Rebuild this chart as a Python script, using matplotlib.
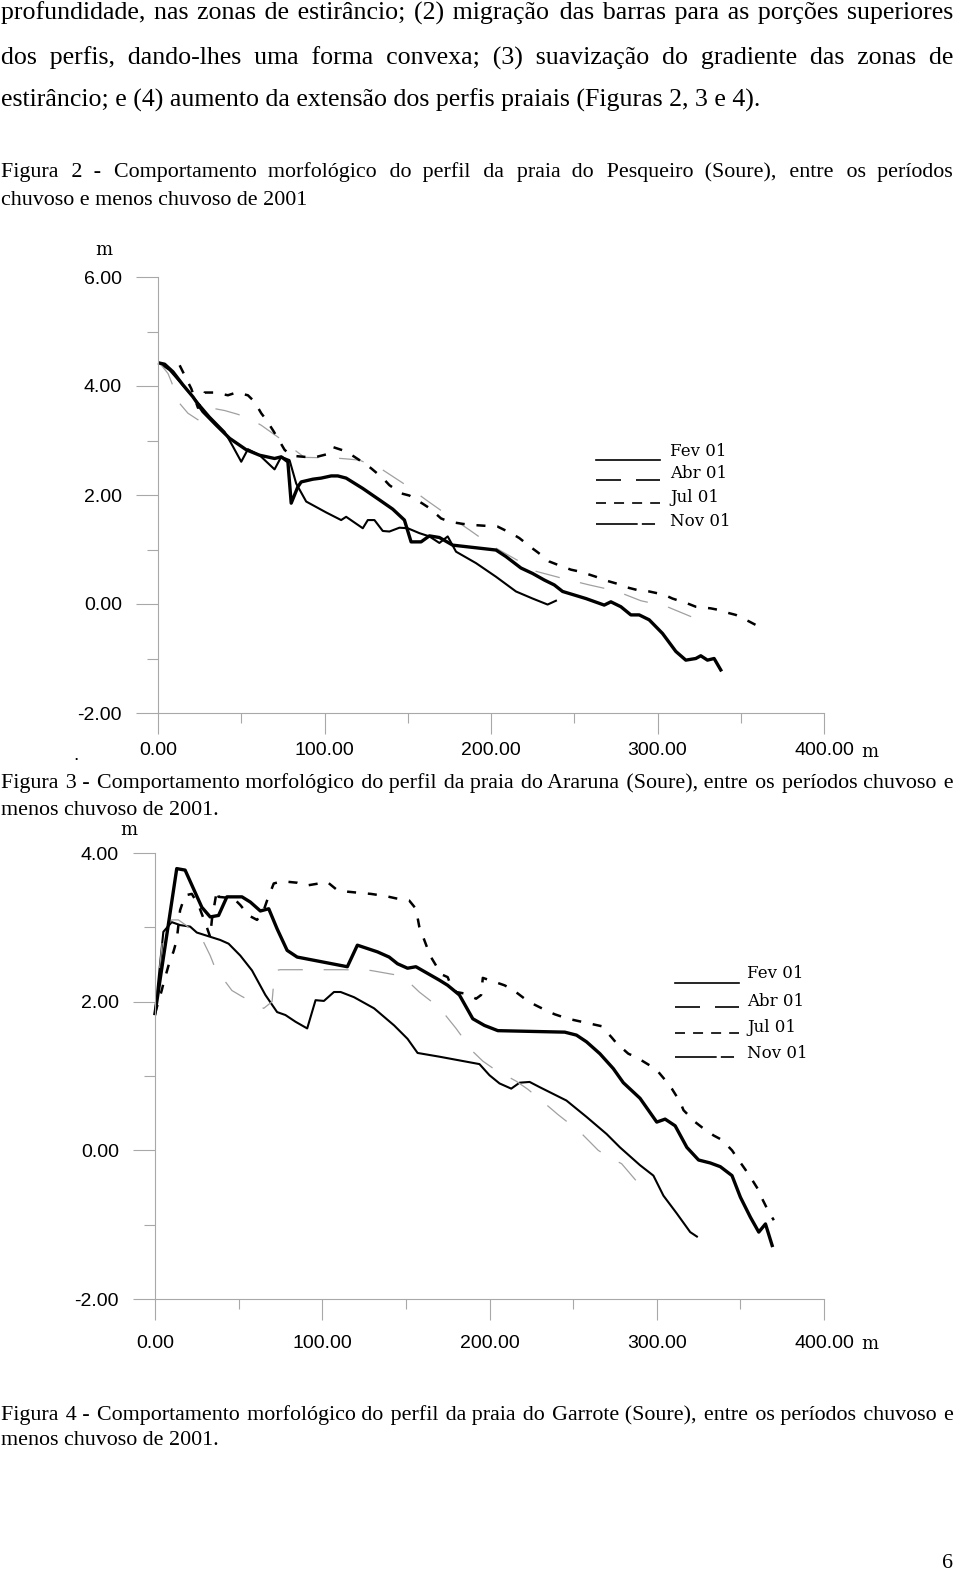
import matplotlib
matplotlib.use("Agg")
import matplotlib.pyplot as plt
from matplotlib.lines import Line2D
from matplotlib.ticker import MultipleLocator, FormatStrFormatter

plt.rcParams['lines.scale_dashes'] = False

W, H = 960, 1590

# ---- Figura 2 (Pesqueiro) ----
x_fev1 = [1, 7, 13, 21, 31, 40, 45, 50, 54, 61, 70, 74, 79, 83, 89, 101, 110, 113, 123, 126,
          130, 135, 139, 145, 150, 157, 163, 169, 174, 179, 191, 203, 215, 225, 234, 239]
y_fev1 = [4.42, 4.29, 4.08, 3.80, 3.44, 3.16, 2.89, 2.61, 2.84, 2.73, 2.47, 2.70, 2.64, 2.21, 1.88, 1.68, 1.54, 1.60, 1.39, 1.54,
          1.54, 1.34, 1.33, 1.40, 1.39, 1.30, 1.24, 1.12, 1.24, 0.96, 0.75, 0.50, 0.23, 0.10, -0.01, 0.06]

x_abr1 = [1, 6, 8, 13, 18, 24, 33, 40, 48, 55, 62, 74, 81, 88, 106, 114, 121, 135, 149, 161,
          174, 187, 200, 205, 216, 227, 243, 259, 275, 290, 305, 320, 331]
y_abr1 = [4.42, 4.23, 4.08, 3.68, 3.50, 3.38, 3.59, 3.55, 3.48, 3.40, 3.28, 3.02, 2.85, 2.69, 2.68, 2.66, 2.64, 2.46, 2.18, 1.91,
          1.63, 1.36, 1.08, 0.99, 0.80, 0.60, 0.47, 0.35, 0.24, 0.06, -0.04, -0.23, -0.42]

x_jul1 = [13, 20, 24, 28, 34, 42, 47, 54, 58, 62, 65, 69, 72, 76, 80, 88, 94, 103, 105, 113,
          117, 124, 128, 135, 139, 146, 151, 159, 163, 170, 175, 183, 189, 199, 204, 212, 217, 224, 228, 235,
          240, 248, 254, 263, 268, 276, 281, 290, 295, 304, 309, 318, 323, 332, 337, 342, 347, 355, 360]
y_jul1 = [4.38, 3.95, 3.60, 3.88, 3.88, 3.83, 3.88, 3.83, 3.71, 3.50, 3.38, 3.19, 3.04, 2.83, 2.72, 2.70, 2.69, 2.76, 2.88, 2.80,
          2.72, 2.58, 2.49, 2.31, 2.18, 2.03, 1.99, 1.84, 1.76, 1.57, 1.51, 1.47, 1.45, 1.43, 1.42, 1.30, 1.21, 1.04, 0.95, 0.78,
          0.72, 0.63, 0.59, 0.50, 0.44, 0.37, 0.31, 0.24, 0.23, 0.17, 0.10, 0.01, -0.05, -0.08, -0.11, -0.16, -0.20, -0.32, -0.40]

x_nov1 = [1, 4, 9, 15, 21, 27, 35, 43, 53, 61, 70, 74, 78, 80, 84, 86, 93, 98, 104, 108,
          113, 123, 133, 141, 148, 152, 158, 163, 169, 177, 203, 209, 218, 225, 232, 238, 243, 257, 268, 272,
          278, 284, 289, 295, 303, 311, 317, 323, 326, 330, 334, 338]
y_nov1 = [4.42, 4.40, 4.26, 4.02, 3.80, 3.53, 3.28, 3.04, 2.83, 2.73, 2.67, 2.70, 2.61, 1.85, 2.15, 2.24, 2.29, 2.31, 2.35, 2.35,
          2.31, 2.12, 1.91, 1.74, 1.54, 1.14, 1.14, 1.25, 1.22, 1.08, 0.99, 0.87, 0.66, 0.56, 0.44, 0.35, 0.23, 0.10, -0.02, 0.04,
          -0.05, -0.20, -0.20, -0.29, -0.54, -0.87, -1.03, -1.00, -0.95, -1.03, -1.00, -1.21]

# ---- Figura 3 (Araruna) ----
x_fev2 = [0, 5, 10, 15, 21, 25, 39, 44, 51, 58, 66, 73, 78, 84, 91, 96, 101, 107, 111, 119,
          131, 143, 151, 157, 170, 194, 200, 206, 213, 218, 224, 230, 238, 246, 258, 270, 278, 290, 298, 304,
          312, 320, 324]
y_fev2 = [1.84, 2.94, 3.07, 3.03, 3.01, 2.93, 2.83, 2.78, 2.62, 2.42, 2.09, 1.86, 1.82, 1.73, 1.64, 2.02, 2.01, 2.13, 2.13, 2.06,
          1.91, 1.68, 1.50, 1.31, 1.26, 1.16, 1.01, 0.90, 0.83, 0.91, 0.92, 0.85, 0.76, 0.67, 0.45, 0.22, 0.04, -0.20, -0.34, -0.61,
          -0.85, -1.10, -1.16]

x_abr2 = [0, 5, 10, 14, 19, 23, 28, 33, 36, 40, 46, 52, 58, 65, 70, 71, 72, 75, 81, 97,
          113, 129, 144, 151, 158, 170, 180, 190, 196, 203, 216, 223, 229, 241, 254, 265, 272, 279, 290]
y_abr2 = [1.84, 2.95, 3.10, 3.10, 3.02, 2.94, 2.85, 2.62, 2.45, 2.33, 2.15, 2.07, 2.00, 1.91, 2.00, 2.26, 2.42, 2.43, 2.43, 2.43,
          2.43, 2.42, 2.36, 2.28, 2.13, 1.92, 1.64, 1.33, 1.20, 1.09, 0.93, 0.82, 0.71, 0.48, 0.25, 0.00, -0.10, -0.18, -0.47]

x_jul2 = [0, 4, 5, 9, 11, 13, 15, 18, 22, 26, 31, 33, 34, 37, 38, 47, 51, 56, 61, 65,
          67, 71, 76, 85, 90, 98, 103, 109, 115, 124, 129, 138, 144, 152, 156, 158, 160, 163, 165, 169,
          172, 175, 176, 180, 185, 192, 195, 196, 200, 209, 214, 221, 226, 234, 239, 247, 253, 261, 267, 273,
          276, 283, 288, 296, 300, 306, 309, 314, 316, 323, 327, 334, 339, 345, 348, 353, 356, 361, 363, 367, 370]
y_jul2 = [1.84, 2.15, 2.24, 2.56, 2.67, 2.83, 3.23, 3.43, 3.45, 3.30, 3.00, 2.87, 3.10, 3.50, 3.41, 3.39, 3.30, 3.16, 3.10, 3.23,
          3.36, 3.59, 3.62, 3.60, 3.56, 3.59, 3.61, 3.50, 3.48, 3.46, 3.45, 3.42, 3.39, 3.36, 3.25, 3.01, 2.89, 2.71, 2.60, 2.45,
          2.36, 2.33, 2.27, 2.13, 2.11, 2.04, 2.09, 2.32, 2.29, 2.22, 2.16, 2.04, 1.97, 1.88, 1.83, 1.77, 1.74, 1.70, 1.67, 1.52,
          1.44, 1.30, 1.25, 1.14, 1.08, 0.92, 0.83, 0.65, 0.54, 0.38, 0.31, 0.20, 0.14, 0.00, -0.10, -0.26, -0.36, -0.54, -0.65, -0.83, -0.94]

x_nov2 = [0, 13, 18, 23, 28, 33, 38, 43, 52, 57, 63, 68, 73, 79, 85, 115, 121, 133, 140, 145,
          151, 156, 163, 170, 175, 182, 190, 197, 205, 245, 252, 258, 266, 274, 280, 290, 300, 305, 311, 318,
          325, 332, 338, 345, 350, 356, 361, 365, 369]
y_nov2 = [1.84, 3.79, 3.77, 3.52, 3.27, 3.14, 3.16, 3.41, 3.41, 3.34, 3.22, 3.25, 2.98, 2.69, 2.60, 2.47, 2.76, 2.67, 2.60, 2.51,
          2.45, 2.47, 2.38, 2.29, 2.22, 2.09, 1.77, 1.68, 1.61, 1.59, 1.55, 1.46, 1.30, 1.10, 0.91, 0.70, 0.38, 0.42, 0.33, 0.04,
          -0.13, -0.17, -0.22, -0.34, -0.63, -0.90, -1.10, -0.99, -1.28]

series_names = ['Fev 01', 'Abr 01', 'Jul 01', 'Nov 01']

# (text, baseline px, font size, justified)
body_lines = [
    ("profundidade, nas zonas de estirâncio; (2) migração das barras para as porções superiores", 20, 18.6, True),
    ("dos perfis, dando-lhes uma forma convexa; (3) suavização do gradiente das zonas de", 65, 18.6, True),
    ("estirâncio; e (4) aumento da extensão dos perfis praiais (Figuras 2, 3 e 4).", 107, 18.6, False),
    ("Figura 2 - Comportamento morfológico do perfil da praia do Pesqueiro (Soure), entre os períodos", 177, 15.8, True),
    ("chuvoso e menos chuvoso de 2001", 205, 15.8, False),
    ("Figura 3 - Comportamento morfológico do perfil da praia do Araruna (Soure), entre os períodos chuvoso e", 788, 15.8, True),
    ("menos chuvoso de 2001.", 815, 15.8, False),
    ("Figura 4 - Comportamento morfológico do perfil da praia do Garrote (Soure), entre os períodos chuvoso e", 1420, 15.8, True),
    ("menos chuvoso de 2001.", 1445, 15.8, False),
]

styles = {
    'Fev 01': dict(color='black', lw=1.5, ls='-'),
    'Abr 01': dict(color='#a0a0a0', lw=0.9, ls=(0, (18, 15))),
    'Jul 01': dict(color='black', lw=1.8, ls=(0, (6.5, 8.5))),
    'Nov 01': dict(color='black', lw=2.4, ls='-'),
}
legend_styles = {
    'Fev 01': '-',
    'Abr 01': (0, (18, 10.8)),
    'Jul 01': (0, (7.2, 5.8)),
    'Nov 01': (0, (30, 3, 9.5, 20)),
}

fig = plt.figure(figsize=(W / 100, H / 100), dpi=100)
fig.patch.set_facecolor('white')
renderer = fig.canvas.get_renderer()

serif = ['Liberation Serif', 'DejaVu Serif']
HAIR = '\u200a'


def fx(px):
    return px / W


def fy(py):
    return 1 - py / H


def text_width(s, size):
    t = fig.text(0, 0, s, fontsize=size, family=serif)
    w = t.get_window_extent(renderer).width
    t.remove()
    return w


def justified(text, size, x0=1, x1=953):
    # widen the gaps with hair spaces so the line fills the column
    words = text.split()
    natural = text_width(' '.join(words), size)
    base = text_width('aa', size)
    hair = (text_width('a' + HAIR * 10 + 'a', size) - base) / 10
    extra = (x1 - x0) - natural
    if extra <= 0 or hair <= 0:
        return ' '.join(words)
    per_gap = extra / (len(words) - 1)
    out = words[0]
    used = 0
    for i, w in enumerate(words[1:], start=1):
        n = int(round(per_gap * i / hair)) - used
        used += n
        out += ' ' + HAIR * n + w
    return out


for text, base, size, just in body_lines:
    s = justified(text, size) if just else text
    fig.text(fx(1), fy(base), s, fontsize=size, family=serif, va='baseline', ha='left')

fig.text(fx(953), fy(1568), '6', fontsize=15.8, family=serif, ha='right', va='baseline')


def make_axes(left, top, right, bottom, ylo, yhi, xpad):
    ax = fig.add_axes([fx(left), fy(bottom), (right - left) / W, (bottom - top) / H])
    ax.set_xlim(0, 400)
    ax.set_ylim(ylo, yhi)
    for s in ['top', 'right']:
        ax.spines[s].set_visible(False)
    for s in ['left', 'bottom']:
        ax.spines[s].set_color('#a8a8a8')
        ax.spines[s].set_linewidth(0.8)
    ax.xaxis.set_major_locator(MultipleLocator(100))
    ax.xaxis.set_minor_locator(MultipleLocator(50))
    ax.yaxis.set_major_locator(MultipleLocator(2))
    ax.yaxis.set_minor_locator(MultipleLocator(1))
    ax.xaxis.set_major_formatter(FormatStrFormatter('%.2f'))
    ax.yaxis.set_major_formatter(FormatStrFormatter('%.2f'))
    ax.tick_params(axis='both', which='both', direction='out', color='#a8a8a8', width=0.8)
    ax.tick_params(axis='y', which='major', length=16, pad=10)
    ax.tick_params(axis='y', which='minor', length=8)
    ax.tick_params(axis='x', which='major', length=15, pad=xpad)
    ax.tick_params(axis='x', which='minor', length=7.5)
    for lab in ax.get_xticklabels() + ax.get_yticklabels():
        lab.set_family('Liberation Sans')
        lab.set_fontsize(14)
    ax.set_facecolor('none')
    return ax


def draw_series(ax, data):
    for name, (xs, ys) in zip(series_names, data):
        st = styles[name]
        ax.plot(xs, ys, color=st['color'], lw=st['lw'], linestyle=st['ls'],
                solid_joinstyle='round', clip_on=False)


def draw_legend(x0, x1, xt, rows):
    for name, (ly, ty) in zip(series_names, rows):
        fig.add_artist(Line2D([fx(x0), fx(x1)], [fy(ly), fy(ly)], color='black', lw=1.2,
                              linestyle=legend_styles[name]))
        fig.text(fx(xt), fy(ty), name, fontsize=12, family='DejaVu Serif', va='center', ha='left')


ax1 = make_axes(158, 277, 824, 713, -2, 6, 6)
draw_series(ax1, [(x_fev1, y_fev1), (x_abr1, y_abr1), (x_jul1, y_jul1), (x_nov1, y_nov1)])
draw_legend(596, 660, 670, [(460, 451), (480, 474), (503, 497), (524, 521)])
fig.text(fx(104), fy(250), 'm', fontsize=13, family='DejaVu Serif', ha='center', va='center')
fig.text(fx(870), fy(752), 'm', fontsize=13, family='DejaVu Serif', ha='center', va='center')
fig.text(fx(76), fy(760), '.', fontsize=14, family='Liberation Sans', ha='center', va='baseline')

ax2 = make_axes(155, 853, 824, 1299, -2, 4, 11)
draw_series(ax2, [(x_fev2, y_fev2), (x_abr2, y_abr2), (x_jul2, y_jul2), (x_nov2, y_nov2)])
draw_legend(675, 739, 747, [(983, 974), (1007, 1001), (1033, 1027), (1057, 1054)])
fig.text(fx(129), fy(830), 'm', fontsize=13, family='DejaVu Serif', ha='center', va='center')
fig.text(fx(870), fy(1344), 'm', fontsize=13, family='DejaVu Serif', ha='center', va='center')

fig.savefig('out.png', dpi=100, facecolor='white')
